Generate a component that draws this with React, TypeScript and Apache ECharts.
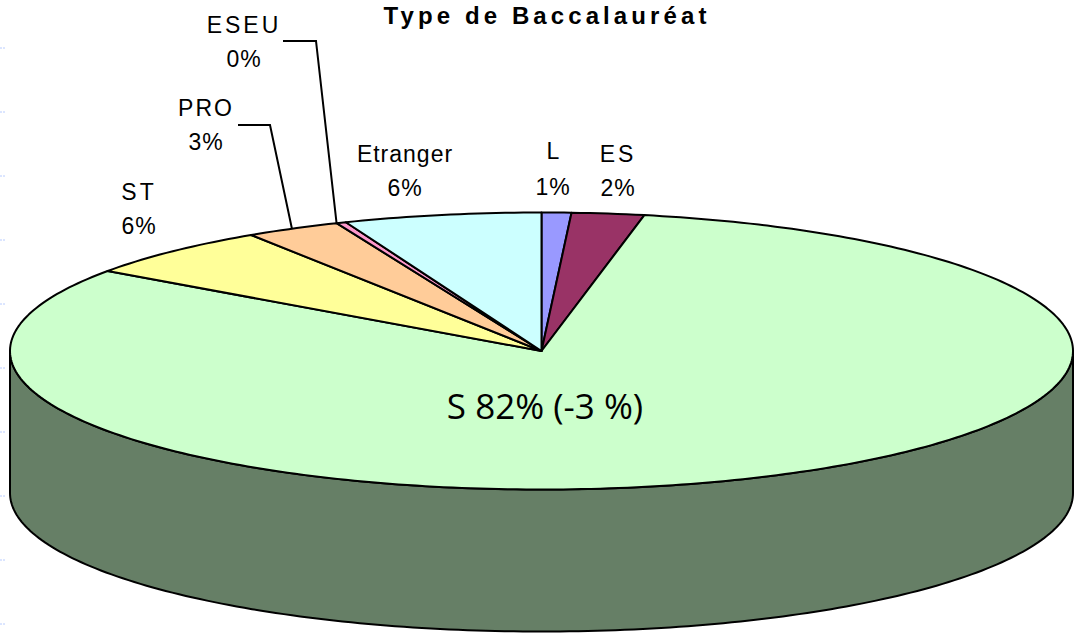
import React, { useEffect, useRef } from "react";
import * as echarts from "echarts";

const CATEGORIES = ["L", "ES", "S", "ST", "PRO", "ESEU", "Etranger"];
const VALUES = [0.9, 2.2, 81.7, 6.0, 2.9, 0.3, 6.0];
const COLORS = ["#9999FF", "#993366", "#CCFFCC", "#FFFF99", "#FFCC99", "#FF99CC", "#CCFFFF"];
const WALL_COLOR = "#667F66";
const TITLE = "Type de Baccalauréat";
const S_NOTE = "(-3 %)";

// label placement: name centre, percent centre, optional leader line bend points
const LABELS: Record<string, { x: number; y1: number; y2: number; leader?: number[][]; at?: number }> = {
  L: { x: 553, y1: 151, y2: 187 },
  ES: { x: 618, y1: 154, y2: 188 },
  ST: { x: 139, y1: 192, y2: 226 },
  PRO: { x: 206, y1: 108, y2: 142, leader: [[238, 125], [270, 125]], at: 0.49 },
  ESEU: { x: 244, y1: 25, y2: 59, leader: [[283, 41], [316, 41]], at: 0 },
  Etranger: { x: 405, y1: 154, y2: 188 },
};
// letter spacing of texts, px
const SPACING: Record<string, number> = {
  [TITLE]: 4.1,
  ESEU: 3,
  PRO: 2,
  ST: 3,
  ES: 3,
  Etranger: 1,
};
const PERCENT_SPACING = 1;

const CX = 541.5;
const CY = 351;
const RX = 531.5;
const RY = 138.5;
const DEPTH = 142;
const INK = "#000000";

const TOTAL = VALUES.reduce((a, b) => a + b, 0);
const pt = (t: number, dy = 0) => [CX + RX * Math.sin(t), CY - RY * Math.cos(t) + dy];
const arc = (a: number, b: number, dy = 0) => {
  const n = Math.max(2, Math.ceil(((b - a) * 180) / Math.PI));
  const out: number[][] = [];
  for (let i = 0; i <= n; i++) out.push(pt(a + ((b - a) * i) / n, dy));
  return out;
};

const option = {
  animation: false,
  backgroundColor: "#ffffff",
  title: {
    text: TITLE,
    left: 542,
    top: -2,
    textAlign: "center",
    textStyle: { fontFamily: "Liberation Sans", fontSize: 24, fontWeight: "bold", color: "#000" },
  },
  series: [
    {
      type: "custom",
      coordinateSystem: "none",
      silent: true,
      data: CATEGORIES.map((name, i) => ({ name, value: [VALUES[i]] })),
      renderItem: (params: any, api: any) => {
        const i = params.dataIndex;
        const name = CATEGORIES[i];
        let before = 0;
        for (let k = 0; k < i; k++) before += VALUES[k];
        const val = api.value(0) as number;
        const a = (before / TOTAL) * 2 * Math.PI;
        const b = ((before + val) / TOTAL) * 2 * Math.PI;
        const line = { stroke: INK, lineWidth: 2, lineJoin: "round" };
        const children: any[] = [];
        const lo = Math.max(a, Math.PI / 2);
        const hi = Math.min(b, (3 * Math.PI) / 2);
        if (hi > lo) {
          children.push({
            type: "polygon",
            shape: { points: [...arc(lo, hi), ...arc(lo, hi, DEPTH).reverse()] },
            style: { fill: WALL_COLOR, ...line },
          });
        }
        children.push({
          type: "polygon",
          shape: { points: [[CX, CY], ...arc(a, b)] },
          style: { fill: COLORS[i], ...line },
        });
        const pct = `${Math.round((val / TOTAL) * 100)}%`;
        const L = LABELS[name];
        if (L) {
          const font = { fontFamily: "Liberation Sans", fontSize: 23, fill: "#000", align: "center", verticalAlign: "middle" };
          children.push({ type: "text", x: L.x, y: L.y1, style: { text: name, ...font } });
          children.push({ type: "text", x: L.x, y: L.y2, style: { text: pct, ...font } });
          if (L.leader) {
            const m = pt(a + (b - a) * (L.at as number));
            children.push({
              type: "polyline",
              shape: { points: [...L.leader, m] },
              style: { fill: "none", stroke: INK, lineWidth: 2 },
            });
          }
        } else {
          children.push({
            type: "text",
            x: 545,
            y: 405,
            style: {
              text: `${name} ${pct} ${S_NOTE}`,
              fontFamily: "Open Sans",
              fontSize: 35,
              fill: "#000",
              align: "center",
              verticalAlign: "middle",
            },
          });
        }
        return { type: "group", children };
      },
    },
  ],
  graphic: [48, 112, 176, 240, 304, 368, 432, 496, 560, 624].map((y) => ({
    type: "line",
    shape: { x1: 0, y1: y, x2: 6, y2: y },
    style: { stroke: "#B8CCFF", lineWidth: 1, lineDash: [2, 1] },
  })),
};

export default function App() {
  const ref = useRef<HTMLDivElement>(null);
  useEffect(() => {
    const chart = echarts.init(ref.current!, null, { renderer: "svg", width: 1075, height: 635 });
    chart.setOption(option as any);
    ref.current!.querySelectorAll("text").forEach((el) => {
      const s = el.textContent || "";
      const sp = SPACING[s] ?? (/^\d+%$/.test(s) ? PERCENT_SPACING : 0);
      if (sp) el.setAttribute("letter-spacing", String(sp));
    });
    return () => chart.dispose();
  }, []);
  return <div ref={ref} style={{ position: "fixed", left: 0, top: 0, width: 1075, height: 635 }} />;
}
